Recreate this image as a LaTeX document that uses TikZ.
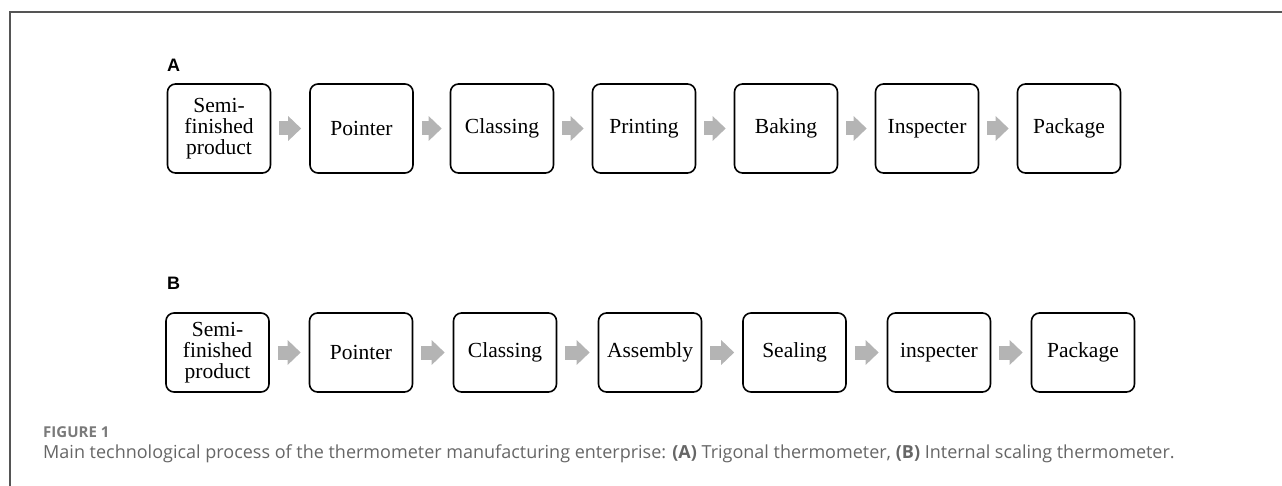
\documentclass[tikz,border=0pt]{standalone}
\usepackage{fontspec}
\setmainfont{Liberation Serif}
\newfontfamily\capfont{Open Sans}
\newfontfamily\panelfont{Liberation Sans}
\usetikzlibrary{arrows.meta}

\definecolor{arrowgray}{HTML}{B4B4B4}
\definecolor{framegray}{HTML}{555555}
\definecolor{captiongray}{HTML}{666666}
\definecolor{labelgray}{HTML}{7A7A7A}

\begin{document}
\begin{tikzpicture}[x=1pt, y=1pt,
  task/.style={draw, line width=1.6pt, rounded corners=8pt, align=center, minimum width=103pt, inner sep=2pt, font=\fontsize{21.5}{21}\selectfont},
  taskA/.style={task, minimum height=89pt},
  taskB/.style={task, minimum height=79pt},
  flow/.style={arrowgray, line width=14pt, -{Triangle[length=13pt, width=24pt]}, shorten <=8pt, shorten >=8pt},
  panel/.style={anchor=west, inner sep=0pt, font=\panelfont\bfseries\fontsize{18}{18}\selectfont}]

\useasboundingbox (0, 0) rectangle (1282, -486);

% frame
\draw[framegray, line width=1.5pt] (1282, -12) -- (10, -12) -- (10, -486);

% (A) trigonal thermometer
\node (panelA) at (167, -65) [panel] {A};

\node (taskA1) at (219, -128.5)   [taskA] {Semi-\\finished\\product};
\node (taskA2) at (361.5, -128.5) [taskA] {Pointer};
\node (taskA3) at (502, -128.5)   [taskA] {Classing};
\node (taskA4) at (644, -128.5)   [taskA] {Printing};
\node (taskA5) at (786, -128.5)   [taskA] {Baking};
\node (taskA6) at (927, -128.5)   [taskA] {Inspecter};
\node (taskA7) at (1069, -128.5)  [taskA] {Package};

\draw[flow] (taskA1.east) -- (taskA2.west);
\draw[flow] (taskA2.east) -- (taskA3.west);
\draw[flow] (taskA3.east) -- (taskA4.west);
\draw[flow] (taskA4.east) -- (taskA5.west);
\draw[flow] (taskA5.east) -- (taskA6.west);
\draw[flow] (taskA6.east) -- (taskA7.west);

% (B) internal scaling thermometer
\node (panelB) at (167, -283) [panel] {B};

\node (taskB1) at (217.5, -352.5) [taskB] {Semi-\\finished\\product};
\node (taskB2) at (361, -352.5)   [taskB] {Pointer};
\node (taskB3) at (505, -352.5)   [taskB] {Classing};
\node (taskB4) at (650, -352.5)   [taskB] {Assembly};
\node (taskB5) at (794.5, -352.5) [taskB] {Sealing};
\node (taskB6) at (939, -352.5)   [taskB] {inspecter};
\node (taskB7) at (1083, -352.5)  [taskB] {Package};

\draw[flow] (taskB1.east) -- (taskB2.west);
\draw[flow] (taskB2.east) -- (taskB3.west);
\draw[flow] (taskB3.east) -- (taskB4.west);
\draw[flow] (taskB4.east) -- (taskB5.west);
\draw[flow] (taskB5.east) -- (taskB6.west);
\draw[flow] (taskB6.east) -- (taskB7.west);

% caption
\node (figlabel) at (43, -432) [anchor=west, inner sep=0pt, text=labelgray, font=\capfont\bfseries\fontsize{15}{16}\selectfont] {FIGURE 1};
\node (figcaption) at (43, -454) [anchor=west, inner sep=0pt, text=captiongray, font=\capfont\fontsize{18}{20}\selectfont]
  {Main technological process of the thermometer manufacturing enterprise: \textbf{(A)} Trigonal thermometer, \textbf{(B)} Internal scaling thermometer.};

\end{tikzpicture}
\end{document}
